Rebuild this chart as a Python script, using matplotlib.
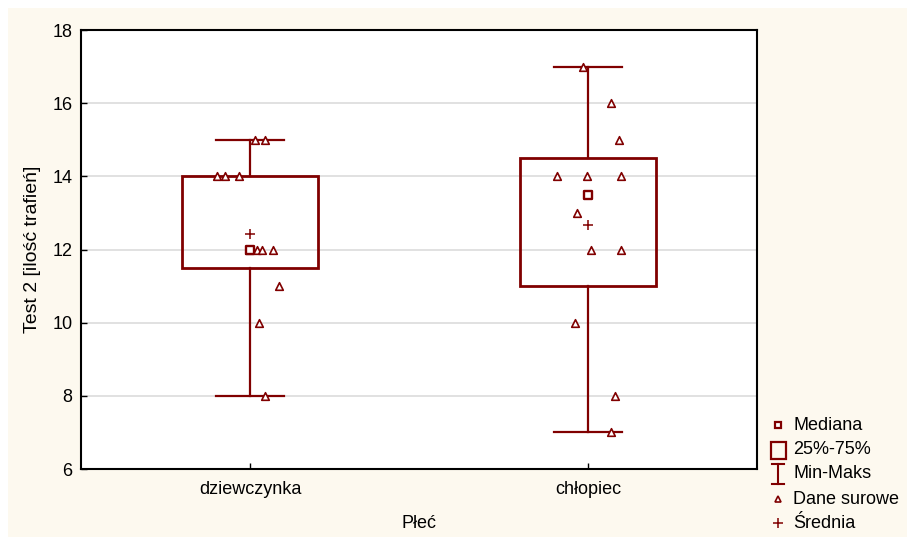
import matplotlib
matplotlib.use("Agg")
import matplotlib.pyplot as plt
from matplotlib.patches import Rectangle

plt.rcParams['font.family'] = ['Liberation Sans', 'DejaVu Sans']

# data
groups = ['dziewczynka', 'chłopiec']
q1 = [11.5, 11.0]
q3 = [14.0, 14.5]
medians = [12.0, 13.5]
mins = [8, 7]
maxs = [15, 17]
means = [12.42, 12.67]

raw_girls = [15, 15, 14, 14, 14, 12, 12, 12, 12, 11, 10, 8]
jit_girls = [0.015, 0.044, -0.098, -0.074, -0.033, -0.003, 0.021, 0.036, 0.068, 0.086, 0.027, 0.044]
raw_boys = [17, 16, 15, 14, 14, 14, 13, 12, 12, 10, 8, 7]
jit_boys = [-0.015, 0.068, 0.092, -0.092, -0.003, 0.098, -0.033, 0.009, 0.098, -0.038, 0.080, 0.068]
raw = [raw_girls, raw_boys]
jitter = [jit_girls, jit_boys]

legend_labels = ['Mediana', '25%-75%', 'Min-Maks', 'Dane surowe', 'Średnia']

col = '#800000'
cream = '#fdf9ef'

fig = plt.figure(figsize=(9.07, 5.37), dpi=100)
fig.patch.set_facecolor('white')
fig.patches.append(Rectangle((8 / 907, 0), 1, 1 - 8 / 537, transform=fig.transFigure,
                             facecolor=cream, edgecolor='none', zorder=-10))

ax = fig.add_axes([81 / 907, 1 - 469 / 537, 676 / 907, 439 / 537])
ax.set_facecolor('white')

bw = 0.4
cap = 0.2
for i in range(len(groups)):
    ax.add_patch(Rectangle((i - bw / 2, q1[i]), bw, q3[i] - q1[i], facecolor='none',
                           edgecolor=col, lw=2, zorder=3))
    ax.plot([i, i], [mins[i], q1[i]], color=col, lw=1.6, zorder=3)
    ax.plot([i, i], [q3[i], maxs[i]], color=col, lw=1.6, zorder=3)
    ax.plot([i - cap / 2, i + cap / 2], [mins[i], mins[i]], color=col, lw=1.6, zorder=3)
    ax.plot([i - cap / 2, i + cap / 2], [maxs[i], maxs[i]], color=col, lw=1.6, zorder=3)
    xs = [i + j for j in jitter[i]]
    ax.scatter(xs, raw[i], marker='^', s=30, facecolor='white', edgecolor=col, lw=1.2, zorder=4)
    ax.scatter([i], [medians[i]], marker='s', s=30, facecolor='white', edgecolor=col, lw=1.7, zorder=5)
    ax.scatter([i], [means[i]], marker='+', s=55, color=col, lw=1.1, zorder=5)

ax.set_xlim(-0.5, 1.5)
ax.set_ylim(6, 18)
ax.set_xticks(range(len(groups)))
ax.set_xticklabels(groups)
ax.set_yticks(range(6, 19, 2))
ax.yaxis.grid(True, color='#dcdcdc', lw=1.2)
ax.set_axisbelow(True)
ax.tick_params(direction='in', length=4, width=1, labelsize=13, color='black', pad=6)
ax.tick_params(axis='x', pad=9)
for s in ax.spines.values():
    s.set_linewidth(1.5)

ax.set_ylabel('Test 2 [ilość trafień]', fontsize=14, labelpad=8)
ax.set_xlabel('Płeć', fontsize=13, labelpad=12)

# legend drawn in a small axes measured in pixels
lg = fig.add_axes([760 / 907, 0, 147 / 907, 130 / 537])
lg.set_xlim(760, 907)
lg.set_ylim(537, 407)
lg.axis('off')
rows = [425, 450, 474, 499, 523]
mx = 778
lg.plot([mx], [rows[0]], marker='s', ms=5, mfc='white', mec=col, mew=1.6, ls='none')
lg.add_patch(Rectangle((mx - 7.5, rows[1] - 8.5), 15, 17, facecolor='none', edgecolor=col, lw=1.6))
lg.plot([mx, mx], [rows[2] - 10, rows[2] + 10], color=col, lw=1.5)
lg.plot([mx - 6, mx + 6], [rows[2] - 10, rows[2] - 10], color=col, lw=1.5)
lg.plot([mx - 6, mx + 6], [rows[2] + 10, rows[2] + 10], color=col, lw=1.5)
lg.plot([mx], [rows[3]], marker='^', ms=4.5, mfc='white', mec=col, mew=1.2, ls='none')
lg.plot([mx], [rows[4]], marker='+', ms=7, color=col, mew=1.1, ls='none')
for y, t in zip(rows, legend_labels):
    lg.text(793, y, t, fontsize=13, va='center', ha='left')

fig.savefig('out.png', dpi=100, facecolor=fig.get_facecolor())
